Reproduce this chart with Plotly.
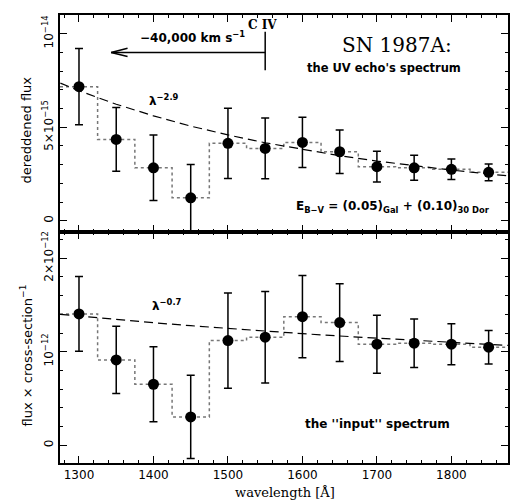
import math
import plotly.graph_objects as go

# ---------------- data ----------------
wavelength = [1300, 1350, 1400, 1450, 1500, 1550, 1600, 1650, 1700, 1750, 1800, 1850]

# top panel: dereddened flux, in units of 1e-15
uv_flux = [7.17, 4.35, 2.83, 1.23, 4.14, 3.87, 4.19, 3.69, 2.89, 2.83, 2.75, 2.59]
uv_err = [2.04, 1.70, 1.75, 1.78, 1.88, 1.63, 1.34, 1.16, 0.82, 0.67, 0.55, 0.45]

# bottom panel: flux x cross-section^-1, in units of 1e-12
in_flux = [1.404, 0.912, 0.652, 0.303, 1.119, 1.155, 1.375, 1.311, 1.080, 1.091, 1.080, 1.048]
in_err = [0.40, 0.36, 0.40, 0.445, 0.51, 0.49, 0.44, 0.415, 0.31, 0.26, 0.22, 0.18]

# dashed power-law curves (read at these wavelengths)
curve_wl = [1275, 1300, 1350, 1400, 1450, 1500, 1550, 1600, 1650, 1700, 1750, 1800, 1850, 1876]
uv_curve = [7.36, 6.95, 6.23, 5.61, 5.06, 4.59, 4.17, 3.81, 3.48, 3.19, 2.94, 2.71, 2.50, 2.40]
in_curve = [1.399, 1.380, 1.344, 1.310, 1.278, 1.248, 1.220, 1.193, 1.168, 1.144, 1.121, 1.099, 1.078, 1.068]

X_RANGE = [1274.5, 1876]
Y_TOP_RANGE = [-0.6, 11.0]
Y_BOT_RANGE = [-0.19, 2.28]

top_ticks = [0, 5, 10]
top_ticktext = ["0", "5×10<sup>−15</sup>", "10<sup>−14</sup>"]
bot_ticks = [0, 1, 2]
bot_ticktext = ["0", "10<sup>−12</sup>", "2×10<sup>−12</sup>"]

CIV = 1550.0
VEL = -40000.0
C_KMS = 299792.458
arrow_end = CIV * (1 + VEL / C_KMS)

FONT = "DejaVu Sans"
SERIF = "DejaVu Serif"

def step_xy(xs, ys):
    return [X_RANGE[0]] + xs + [X_RANGE[1]], [ys[0]] + ys + [ys[-1]]

fig = go.Figure()

for yax, xax, flux, err, curve in [("y2", "x2", uv_flux, uv_err, uv_curve),
                                   ("y", "x", in_flux, in_err, in_curve)]:
    sx, sy = step_xy(wavelength, flux)
    fig.add_trace(go.Scatter(x=sx, y=sy, mode="lines", line_shape="hvh",
                             line=dict(color="#777777", width=1.5, dash="dot"),
                             xaxis=xax, yaxis=yax, showlegend=False, hoverinfo="skip"))
    fig.add_trace(go.Scatter(x=curve_wl, y=curve, mode="lines",
                             line=dict(color="black", width=1.2, dash="9px,5px"),
                             xaxis=xax, yaxis=yax, showlegend=False, hoverinfo="skip"))
    fig.add_trace(go.Scatter(x=wavelength, y=flux, mode="markers",
                             marker=dict(color="black", size=11),
                             error_y=dict(type="data", array=err, color="black",
                                          thickness=1.5, width=4),
                             xaxis=xax, yaxis=yax, showlegend=False))

axis_common = dict(showline=True, linecolor="black", linewidth=1.5, mirror="allticks",
                   ticks="inside", tickcolor="black", ticklen=7, tickwidth=1.2,
                   showgrid=False, zeroline=False, automargin=False,
                   tickfont=dict(family=FONT, size=12, color="black"))

D = 231 / 448

fig.update_layout(
    width=519, height=502,
    margin=dict(l=60, r=11, t=15, b=39, autoexpand=False),
    paper_bgcolor="white", plot_bgcolor="white",
    xaxis=dict(domain=[0, 1], anchor="y", range=X_RANGE, tick0=1300, dtick=100,
               minor=dict(dtick=20, tick0=1300, ticks="inside", ticklen=3.5, tickcolor="black"),
               **axis_common),
    xaxis2=dict(domain=[0, 1], anchor="y2", matches="x", range=X_RANGE, tick0=1300, dtick=100,
                showticklabels=False,
                minor=dict(dtick=20, tick0=1300, ticks="inside", ticklen=3.5, tickcolor="black"),
                **axis_common),
    yaxis=dict(domain=[0, D], anchor="x", range=Y_BOT_RANGE, tickvals=bot_ticks,
               ticktext=bot_ticktext, tickangle=-90,
               minor=dict(dtick=0.2, tick0=0, ticks="inside", ticklen=3.5, tickcolor="black"),
               **axis_common),
    yaxis2=dict(domain=[D, 1], anchor="x2", range=Y_TOP_RANGE, tickvals=top_ticks,
                ticktext=top_ticktext, tickangle=-90,
                minor=dict(dtick=1, tick0=0, ticks="inside", ticklen=3.5, tickcolor="black"),
                **axis_common),
)

# C IV marker and velocity arrow (top panel)
fig.add_shape(type="line", xref="x2", yref="y2", x0=CIV, x1=CIV, y0=8.05, y1=10.1,
              line=dict(color="black", width=1.5))
fig.add_shape(type="line", xref="x2", yref="y2", x0=CIV, x1=arrow_end, y0=9.0, y1=9.0,
              line=dict(color="black", width=1.5))
fig.add_shape(type="path", xref="x2", yref="y2",
              path=f"M {arrow_end + 22} 9.22 L {arrow_end} 9.0 L {arrow_end + 22} 8.78",
              line=dict(color="black", width=1.5))

ann = []
def txt(text, x, y, xref, yref, size=12, family=FONT, angle=0, weight="normal"):
    ann.append(dict(text=text, x=x, y=y, xref=xref, yref=yref, showarrow=False,
                    textangle=angle,
                    font=dict(family=family, size=size, color="black", weight=weight),
                    xanchor="center", yanchor="middle"))

txt("C IV", 1547, 10.45, "x2", "y2", size=12, family=SERIF, weight="bold")
txt("−40,000 km s<sup>−1</sup>", 1452, 9.82, "x2", "y2", size=12, weight="bold")
txt("SN 1987A:", 1727, 9.40, "x2", "y2", size=20, family=SERIF)
txt("the UV echo's spectrum", 1709, 8.17, "x2", "y2", size=11.5, weight="bold")
txt("λ<sup>−2.9</sup>", 1414, 6.45, "x2", "y2", size=12, weight="bold")
txt("E<sub>B−V</sub> = (0.05)<sub>Gal</sub> + (0.10)<sub>30 Dor</sub>",
    1722, 0.75, "x2", "y2", size=12, weight="bold")
txt("λ<sup>−0.7</sup>", 1418, 1.50, "x", "y", size=12, weight="bold")
txt("the ''input'' spectrum", 1701, 0.23, "x", "y", size=12, weight="bold")

txt("dereddened flux", -0.075, 0.743, "paper", "paper", size=13, angle=-90)
txt("flux × cross-section<sup>−1</sup>", -0.075, 0.241, "paper", "paper", size=13, angle=-90)
txt("wavelength [Å]", 0.502, -0.066, "paper", "paper", size=13, family=SERIF)

fig.update_layout(annotations=ann)
fig.write_html("out.html", config={"displayModeBar": False},
               post_script="document.body.style.margin='0';document.body.style.overflow='hidden';")
